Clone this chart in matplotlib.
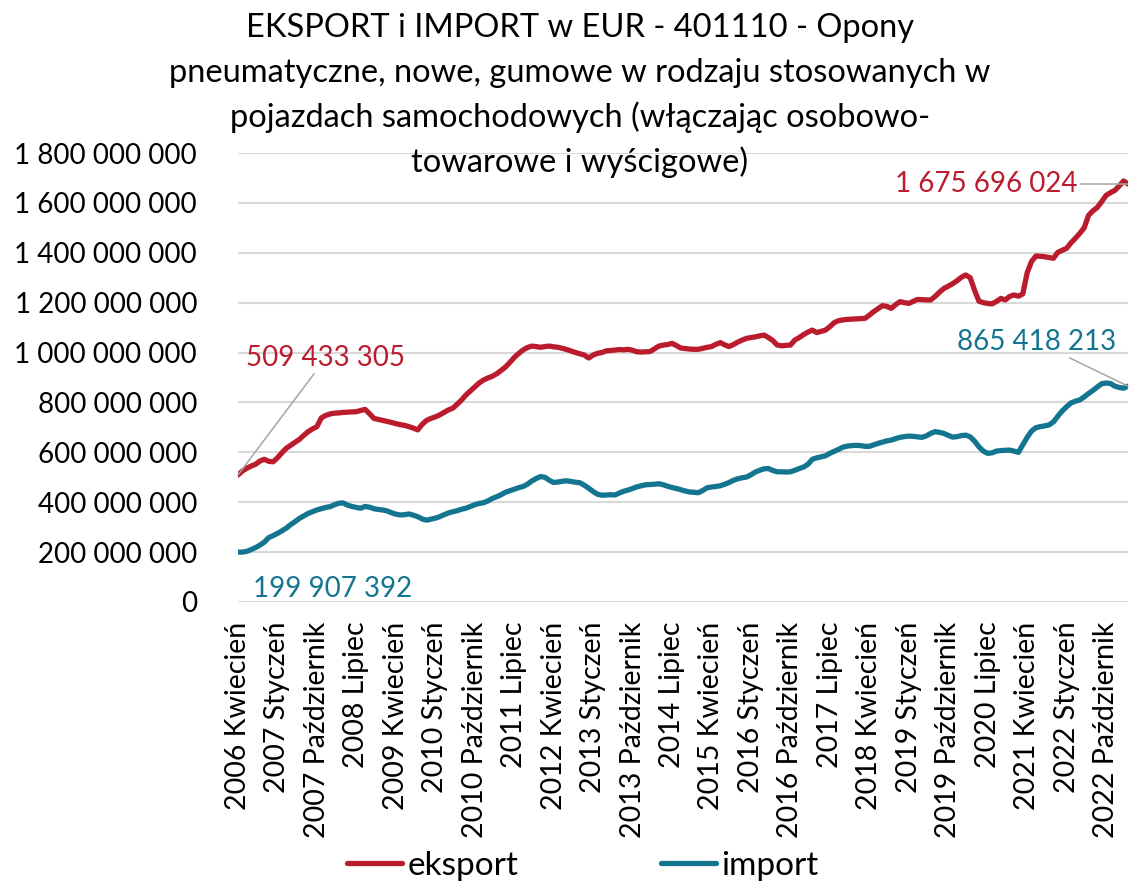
import matplotlib
matplotlib.use("Agg")
import matplotlib.pyplot as plt
from matplotlib.ticker import FuncFormatter, MultipleLocator

plt.rcParams["font.family"] = ["Lato", "DejaVu Sans"]

# Rolling 12-month totals, millions of EUR, monthly from 2006-04
eksport = [
    509.433305, 525, 536, 545, 552, 565, 572, 564, 562, 578, 598, 616, 628, 640, 652, 668,
    683, 694, 703, 738, 748, 754, 757, 758, 760, 761, 762, 763, 768, 772, 755, 736,
    732, 728, 724, 720, 715, 711, 708, 703, 697, 690, 712, 728, 736, 742, 750, 760,
    770, 777, 793, 810, 830, 846, 862, 878, 890, 898, 905, 915, 928, 942, 960, 980,
    996, 1010, 1020, 1026, 1024, 1021, 1024, 1026, 1023, 1021, 1017, 1012, 1006, 1000, 995, 990,
    978, 990, 997, 1000, 1007, 1008, 1010, 1012, 1011, 1013, 1009, 1003, 1002, 1003, 1004, 1015,
    1026, 1030, 1032, 1037, 1028, 1018, 1016, 1014, 1013, 1013, 1017, 1021, 1024, 1033, 1040, 1031,
    1024, 1032, 1042, 1050, 1057, 1060, 1063, 1067, 1070, 1060, 1048, 1030, 1027, 1029, 1030, 1050,
    1060, 1072, 1082, 1090, 1080, 1085, 1090, 1104, 1120, 1128, 1131, 1133, 1134, 1135, 1136, 1137,
    1150, 1164, 1176, 1188, 1185, 1177, 1192, 1204, 1200, 1197, 1205, 1213, 1212, 1211, 1211, 1225,
    1242, 1257, 1266, 1276, 1288, 1302, 1311, 1300, 1250, 1206, 1200, 1197, 1195, 1205, 1217, 1211,
    1225, 1231, 1226, 1235, 1320, 1365, 1387, 1386, 1384, 1381, 1378, 1402, 1410, 1418, 1440, 1458,
    1478, 1500, 1550, 1568, 1582, 1605, 1630, 1641, 1650, 1668, 1688, 1675.696024,
]

import_ = [
    199.907392, 200, 203, 210, 218, 228, 240, 258, 266, 275, 285, 296, 310, 322, 335, 345,
    355, 362, 369, 374, 379, 382, 390, 396, 397, 388, 383, 379, 376, 383, 380, 374,
    371, 369, 365, 358, 352, 349, 350, 353, 348, 342, 333, 328, 332, 336, 342, 350,
    357, 362, 366, 372, 376, 383, 390, 395, 398, 405, 415, 422, 430, 440, 446, 452,
    458, 463, 472, 485, 495, 503, 500, 488, 479, 481, 484, 486, 483, 480, 478, 468,
    456, 443, 432, 428, 429, 430, 429, 437, 444, 449, 455, 462, 466, 470, 471, 472,
    474, 470, 464, 459, 455, 450, 445, 441, 440, 438, 447, 458, 461, 463, 466, 472,
    479, 488, 494, 498, 501, 510, 521, 528, 534, 535, 527, 522, 522, 521, 522, 528,
    535, 541, 552, 572, 578, 582, 586, 596, 604, 612, 621, 625, 627, 628, 627, 624,
    624, 630, 636, 641, 646, 649, 655, 660, 663, 665, 664, 662, 660, 666, 676, 683,
    680, 676, 668, 661, 663, 667, 669, 662, 645, 622, 605, 596, 598, 605, 607, 608,
    609, 605, 600, 630, 660, 685, 699, 703, 706, 710, 722, 745, 766, 783, 798, 805,
    810, 822, 836, 848, 862, 875, 878, 876, 865, 860, 857, 865.418213,
]

months_pl = ["Styczeń", "Luty", "Marzec", "Kwiecień", "Maj", "Czerwiec", "Lipiec",
             "Sierpień", "Wrzesień", "Październik", "Listopad", "Grudzień"]
start_year, start_month = 2006, 4

title_lines = [
    "EKSPORT i IMPORT w EUR - 401110 - Opony",
    "pneumatyczne, nowe, gumowe w rodzaju stosowanych w",
    "pojazdach samochodowych (włączając osobowo-",
    "towarowe i wyścigowe)",
]

categories = []
for k in range(len(eksport)):
    m = start_month - 1 + k
    categories.append(f"{start_year + m // 12} {months_pl[m % 12]}")

RED = "#BA1C2E"
BLUE = "#13758F"
GRID = "#D9D9D9"
LEADER = "#A6A6A6"


def spaced(v):
    return f"{v:,.0f}".replace(",", " ")


fig = plt.figure(figsize=(11.3, 8.85), dpi=100)
ax = fig.add_axes([238 / 1130, 283 / 885, 890 / 1130, 449 / 885])

x = list(range(len(eksport)))
ex = [v * 1e6 for v in eksport]
im = [v * 1e6 for v in import_]
ax.plot(x, ex, color=RED, lw=3.8, solid_capstyle="round", label="eksport", zorder=3)
ax.plot(x, im, color=BLUE, lw=3.8, solid_capstyle="round", label="import", zorder=3)

ax.set_xlim(0, len(x) - 1)
ax.set_ylim(0, 1.8e9)
ax.yaxis.set_major_locator(MultipleLocator(2e8))
ax.yaxis.set_major_formatter(FuncFormatter(lambda v, _: spaced(v)))
ax.grid(axis="y", color=GRID, lw=1.5, zorder=0)
ax.set_axisbelow(True)
for s in ax.spines.values():
    s.set_visible(False)

tick_idx = list(range(0, len(x), 9))
ax.set_xticks(tick_idx)
ax.set_xticklabels([categories[i] for i in tick_idx], rotation=90, fontsize=20.5)
ax.tick_params(axis="x", length=0, pad=14)
ax.tick_params(axis="y", length=0, pad=29.5, labelsize=20)

# Data labels on first and last points
lbl = dict(fontsize=20, ha="center", va="center", textcoords="offset pixels")
arrow = dict(arrowstyle="-", color=LEADER, lw=1.1, shrinkA=0, shrinkB=0)
ax.annotate(spaced(ex[0]), xy=(0, ex[0]), xytext=(88, 117),
            color=RED, arrowprops=arrow, **lbl)
ax.annotate(spaced(ex[-1]), xy=(x[-1], ex[-1]), xytext=(-142, 0),
            color=RED, arrowprops=arrow, **lbl)
ax.annotate(spaced(im[0]), xy=(0, im[0]), xytext=(95, -37), color=BLUE, **lbl)
ax.annotate(spaced(im[-1]), xy=(x[-1], im[-1]), xytext=(-91, 44),
            color=BLUE, arrowprops=arrow, **lbl)

# Title, one line at a time so each sits on its own baseline
for n, line in enumerate(title_lines):
    fig.text(580 / 1130, 1 - (37 + 45 * n) / 885, line,
             ha="center", va="baseline", fontsize=23.5)

fig.legend(loc="center", bbox_to_anchor=(583 / 1130, 1 - 866 / 885), ncol=2,
           frameon=False, fontsize=24, handlelength=1.65, handletextpad=0.15,
           columnspacing=4.3)

fig.savefig("out.png", dpi=100, facecolor="white")
